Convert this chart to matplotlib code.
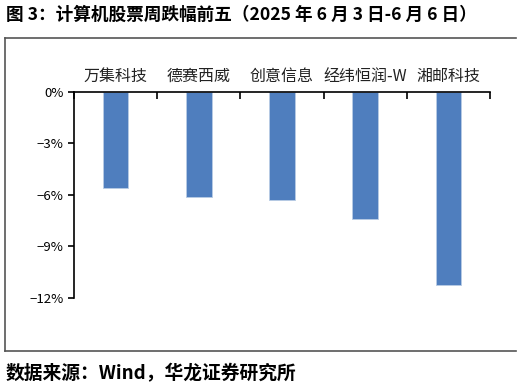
import matplotlib.pyplot as plt
from matplotlib.lines import Line2D
from matplotlib.ticker import FuncFormatter

plt.rcParams['font.family'] = ['Noto Sans CJK SC', 'DejaVu Sans']

stocks = ['万集科技', '德赛西威', '创意信息', '经纬恒润-W', '湘邮科技']
changes = [-5.62, -6.13, -6.30, -7.43, -11.26]
yticks = [0, -3, -6, -9, -12]

fig = plt.figure(figsize=(5.21, 3.91), dpi=100)
ax = fig.add_axes([0.142, 0.2386, 0.7985, 0.5261])

x = range(len(stocks))
ax.bar(x, changes, width=0.31, color='#4F7EBE', edgecolor='#B8CCE4', linewidth=0.6)

ax.set_xlim(-0.5, len(stocks) - 0.5)
ax.set_ylim(-12, 0)
ax.set_yticks(yticks)
ax.yaxis.set_major_formatter(FuncFormatter(lambda v, p: ('%d%%' % v).replace('-', '\u2212')))
ax.tick_params(axis='y', direction='out', length=4, width=1.2, labelsize=9.5, colors='black')

ax.xaxis.tick_top()
ax.set_xticks([i - 0.5 for i in range(len(stocks) + 1)])
ax.set_xticklabels([])
ax.tick_params(axis='x', direction='in', length=5, width=1.2, top=True, bottom=False)
for i, s in enumerate(stocks):
    ax.text(i, 1.035, s, transform=ax.get_xaxis_transform(), ha='center', va='bottom',
            fontsize=11.5, color='#222222')

ax.spines['right'].set_visible(False)
ax.spines['bottom'].set_visible(False)
ax.spines['top'].set_linewidth(1.2)
ax.spines['left'].set_linewidth(1.2)

# outer frame
top, bot, lft, rgt = 1 - 38/391, 1 - 351/391, 5/521, 516/521
fig.add_artist(Line2D([lft, rgt], [top, top], color='#555555', lw=1.2))
fig.add_artist(Line2D([lft, rgt], [bot, bot], color='#555555', lw=1.2))
fig.add_artist(Line2D([lft, lft], [top, bot], color='#555555', lw=1.2))

fig.text(6/521, 1 - 15/391, '图 3：计算机股票周跌幅前五（2025 年 6 月 3 日-6 月 6 日）',
         fontsize=12.7, fontweight='bold', va='center', ha='left')
fig.text(6/521, 1 - 374/391, '数据来源：Wind，华龙证券研究所',
         fontsize=13.5, fontweight='bold', va='center', ha='left')

fig.savefig('out.png', dpi=100)
